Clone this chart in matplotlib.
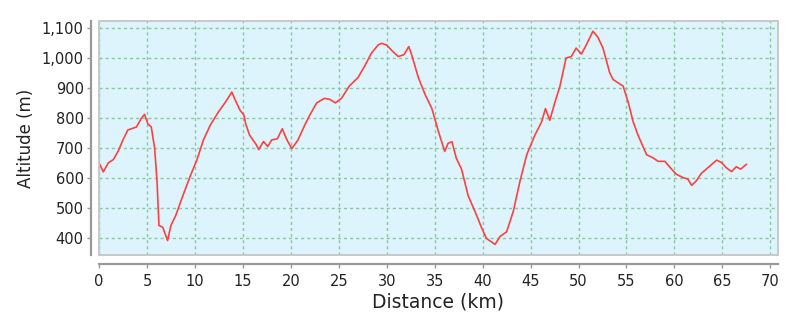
import matplotlib
matplotlib.use("Agg")
import matplotlib.pyplot as plt
from matplotlib.patches import Rectangle
from matplotlib.ticker import StrMethodFormatter

# elevation profile
distance_km = [0.0, 0.45, 0.97, 1.5, 2.0, 2.5, 3.0, 3.9, 4.4, 4.75, 5.1, 5.45, 5.8, 6.05, 6.25,
               6.65, 6.9, 7.15, 7.5, 8.0, 8.7, 9.55, 10.2, 10.9, 11.6, 12.45, 13.15, 13.85, 14.2,
               14.7, 15.1, 15.3, 15.7, 16.4, 16.65, 17.15, 17.6, 18.0, 18.6, 19.1, 19.6, 20.1,
               20.75, 21.45, 21.97, 22.7, 23.5, 24.05, 24.65, 25.3, 26.1, 27.0, 27.7, 28.4, 29.1,
               29.45, 30.0, 30.5, 31.2, 31.8, 32.3, 32.6, 33.3, 34.0, 34.7, 35.4, 36.05, 36.4,
               36.8, 37.25, 37.8, 38.5, 39.2, 39.9, 40.4, 41.3, 41.8, 42.5, 43.2, 43.9, 44.6,
               45.45, 46.15, 46.55, 47.0, 47.5, 48.05, 48.7, 49.25, 49.75, 50.3, 50.8, 51.5, 52.0,
               52.55, 53.25, 53.6, 54.1, 54.65, 55.2, 55.7, 56.2, 57.1, 57.8, 58.3, 59.0, 59.7,
               60.2, 60.9, 61.4, 61.8, 62.3, 62.8, 63.5, 64.4, 64.9, 65.4, 65.95, 66.45, 66.9, 67.5]
altitude_m = [651, 621, 651, 662, 690, 727, 760, 770, 798, 812, 780, 770, 700, 590, 443,
              437, 415, 393, 443, 476, 538, 610, 660, 728, 776, 820, 851, 886, 860,
              826, 810, 780, 743, 711, 695, 722, 705, 727, 731, 764, 727, 698,
              727, 776, 809, 850, 865, 862, 850, 866, 906, 934, 972, 1015, 1042,
              1048, 1042, 1025, 1004, 1010, 1037, 1010, 934, 878, 832, 754, 689, 716,
              721, 667, 630, 541, 490, 435, 400, 380, 406, 422, 490, 591, 678,
              743, 787, 831, 792, 848, 904, 999, 1004, 1032, 1012, 1042, 1088, 1069,
              1032, 950, 928, 917, 906, 850, 787, 743, 678, 667, 656, 656, 630,
              613, 602, 597, 576, 592, 616, 635, 660, 652, 635, 622, 638, 630, 646]

x_ticks = list(range(0, 71, 5))
y_ticks = list(range(400, 1101, 100))

fig = plt.figure(figsize=(8.04, 3.27), dpi=100)
ax = fig.add_axes([99 / 804, 1 - 255 / 327, 679 / 804, 234 / 327])
ax.set_facecolor("#ddf4fc")

ax.plot(distance_km, altitude_m, color="#ff4040", linewidth=1.2, zorder=3)
ax.axvline(0, color="#6f86d6", linestyle=(0, (1.5, 1.5)), linewidth=1.5, zorder=2)

ax.set_xlim(0, 70.8)
ax.set_ylim(345, 1122)
ax.set_xticks(x_ticks)
ax.set_yticks(y_ticks)
ax.yaxis.set_major_formatter(StrMethodFormatter("{x:,.0f}"))

ax.grid(True, color="#86c99a", linestyle=(0, (2.2, 2.2)), linewidth=1.0)
ax.set_axisbelow(True)

# frame around the plot area
ax.add_patch(Rectangle((0, 0), 1, 1, transform=ax.transAxes, fill=False,
                       edgecolor="#c8c8c8", linewidth=1.4, clip_on=False, zorder=4))

for side in ["top", "right"]:
    ax.spines[side].set_visible(False)
ax.spines["left"].set_position(("outward", 6))
ax.spines["bottom"].set_position(("outward", 6.5))
for side in ["left", "bottom"]:
    ax.spines[side].set_color("#999999")
    ax.spines[side].set_linewidth(1.6)

ax.tick_params(axis="both", colors="#999999", length=3, width=1, labelsize=10.5,
               labelcolor="#222222", pad=2)
ax.tick_params(axis="x", pad=4)

ax.set_xlabel("Distance (km)", fontsize=13.5, color="#222222", labelpad=3)
ax.set_ylabel("Altitude (m)", fontsize=12, color="#222222", labelpad=5)

fig.savefig("out.png", dpi=100)
